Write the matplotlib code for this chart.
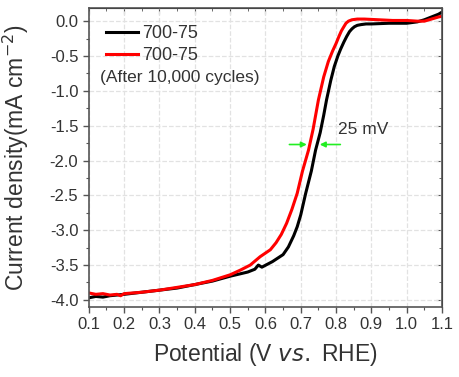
import matplotlib.pyplot as plt
import numpy as np
from matplotlib.ticker import MultipleLocator

plt.rcParams['font.family'] = ['Liberation Sans', 'DejaVu Sans']

# potential (V vs. RHE) and current density (mA cm-2)
black_x = [0.10, 0.12, 0.14, 0.16, 0.18, 0.20, 0.25, 0.30, 0.35, 0.40, 0.45, 0.50,
           0.55, 0.57, 0.58, 0.59, 0.62, 0.65, 0.665, 0.68, 0.69, 0.70, 0.714, 0.73, 0.742,
           0.755, 0.765, 0.773, 0.785, 0.795, 0.805, 0.813, 0.822, 0.83, 0.838, 0.845,
           0.852, 0.86, 0.87, 0.885, 0.90, 0.95, 1.00, 1.03, 1.05, 1.07, 1.09, 1.10]
black_y = [-3.97, -3.95, -3.96, -3.94, -3.93, -3.92, -3.89, -3.86, -3.83, -3.78, -3.73, -3.66,
           -3.60, -3.56, -3.50, -3.53, -3.45, -3.35, -3.24, -3.08, -2.95, -2.78, -2.47, -2.15, -1.85,
           -1.60, -1.35, -1.13, -0.85, -0.65, -0.50, -0.40, -0.30, -0.22, -0.15, -0.11,
           -0.08, -0.06, -0.05, -0.04, -0.04, -0.03, -0.03, -0.01, 0.02, 0.06, 0.10, 0.13]

red_x = [0.10, 0.12, 0.14, 0.16, 0.18, 0.19, 0.20, 0.25, 0.30, 0.35, 0.40, 0.45, 0.50,
         0.53, 0.557, 0.585, 0.614, 0.63, 0.645, 0.66, 0.675, 0.69, 0.705, 0.722, 0.735, 0.75,
         0.765, 0.778, 0.79, 0.80, 0.808, 0.815, 0.822, 0.828, 0.835, 0.845, 0.86, 0.88,
         0.92, 0.96, 1.00, 1.03, 1.05, 1.07, 1.09, 1.10]
red_y = [-3.90, -3.92, -3.91, -3.93, -3.92, -3.94, -3.91, -3.89, -3.86, -3.82, -3.78, -3.72, -3.64,
         -3.57, -3.50, -3.38, -3.28, -3.18, -3.06, -2.90, -2.70, -2.47, -2.15, -1.85, -1.55, -1.13,
         -0.80, -0.58, -0.43, -0.32, -0.22, -0.14, -0.08, -0.03, 0.00, 0.02, 0.03, 0.03,
         0.02, 0.01, 0.01, 0.00, 0.00, 0.03, 0.06, 0.07]

labels = ['700-75', '700-75']

fig = plt.figure(figsize=(4.6, 3.77), dpi=100)
ax = fig.add_axes([0.193, 0.186, 0.768, 0.793])

ax.plot(black_x, black_y, color='black', lw=2.2, label=labels[0])
ax.plot(red_x, red_y, color='red', lw=2.2, label=labels[1])

ax.set_xlim(0.1, 1.1)
ax.set_ylim(-4.1, 0.19)
ax.xaxis.set_major_locator(MultipleLocator(0.1))
ax.xaxis.set_minor_locator(MultipleLocator(0.05))
ax.yaxis.set_major_locator(MultipleLocator(0.5))
ax.yaxis.set_minor_locator(MultipleLocator(0.25))
ax.xaxis.set_major_formatter(plt.FuncFormatter(lambda v, p: f'{v:.1f}'))
ax.yaxis.set_major_formatter(plt.FuncFormatter(lambda v, p: f'{v:.1f}'))
ax.grid(True, which='major', color='#e2e2e2', lw=0.9, ls='--')

for s in ax.spines.values():
    s.set_color('#555555')
    s.set_linewidth(1.2)
ax.tick_params(which='both', direction='out', colors='#555555', labelcolor='#333333', labelsize=12)
ax.tick_params(which='major', length=4, width=1)
ax.tick_params(which='minor', length=2.5, width=0.8)

# mirrored ticks on top and right, pointing in
top = ax.secondary_xaxis('top')
top.xaxis.set_major_locator(MultipleLocator(0.1))
top.xaxis.set_minor_locator(MultipleLocator(0.05))
top.tick_params(which='both', direction='in', labeltop=False, colors='#555555')
top.tick_params(which='major', length=4)
top.tick_params(which='minor', length=2.5)
right = ax.secondary_yaxis('right')
right.yaxis.set_major_locator(MultipleLocator(0.5))
right.yaxis.set_minor_locator(MultipleLocator(0.25))
right.tick_params(which='both', direction='in', labelright=False, colors='#555555')
right.tick_params(which='major', length=4)
right.tick_params(which='minor', length=2.5)

ax.set_xlabel('Potential (V $\\it{vs.}$ RHE)', fontsize=16.5, color='#333333', labelpad=6)
ax.set_ylabel('Current density(mA cm$^{-2}$)', fontsize=16.5, color='#333333',
              va='center', ha='center')
ax.yaxis.set_label_coords(-0.205, 0.5)

leg = ax.legend(loc='upper left', bbox_to_anchor=(0.0, 1.0), frameon=False, fontsize=13,
                handlelength=1.8, handletextpad=0.2, labelspacing=0.3, borderaxespad=0.55)
for t in leg.get_texts():
    t.set_color('#333333')
ax.text(0.132, -0.81, '(After 10,000 cycles)', fontsize=12.5, color='#333333', va='center')

# half-wave shift marker
ax.annotate('', xy=(0.725, -1.77), xytext=(0.66, -1.77),
            arrowprops=dict(arrowstyle='-|>', color='#22ee22', lw=1.2, mutation_scale=8))
ax.annotate('', xy=(0.746, -1.77), xytext=(0.82, -1.77),
            arrowprops=dict(arrowstyle='-|>', color='#22ee22', lw=1.2, mutation_scale=8))
ax.text(0.805, -1.56, '25 mV', fontsize=12.5, color='#333333', va='center')

fig.savefig('out.png', dpi=100)
